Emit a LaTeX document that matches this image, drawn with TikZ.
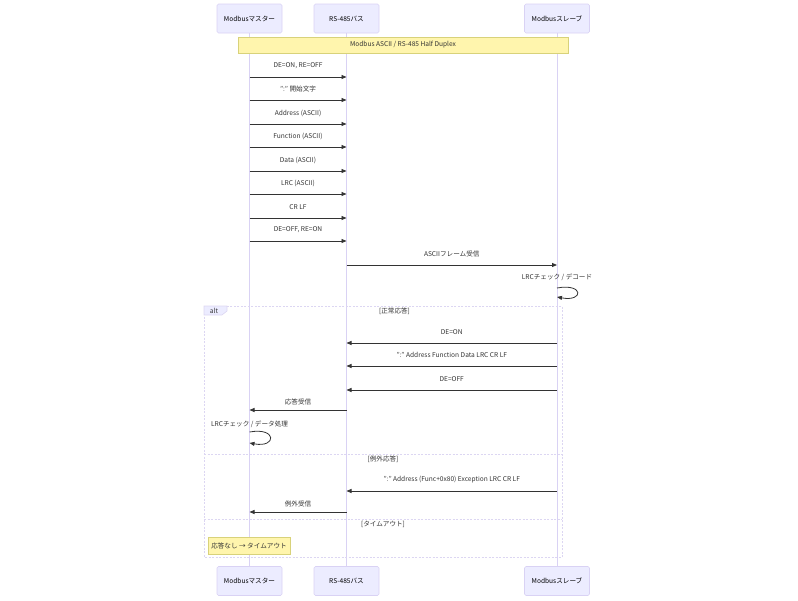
\documentclass[tikz,border=0pt]{standalone}
\usepackage{fontspec}
\setmainfont{Noto Sans CJK JP}
\usetikzlibrary{arrows.meta}
\definecolor{actfill}{HTML}{ECECFF}
\definecolor{actdraw}{HTML}{D9D2F4}
\definecolor{lifec}{HTML}{D9D2F4}
\definecolor{notefill}{HTML}{FFF5AD}
\definecolor{notedraw}{HTML}{D8D27A}
\definecolor{txt}{HTML}{333333}
\definecolor{altc}{HTML}{DCD6F2}
\tikzset{
  actor/.style={draw=actdraw, fill=actfill, minimum width=65pt, minimum height=29pt, rounded corners=1.5pt, line width=0.6pt, inner sep=0pt},
  life/.style={draw=lifec, line width=0.8pt},
  msg/.style={draw=txt, line width=0.8pt, -{Triangle[length=5pt,width=4pt]}},
  lbl/.style={midway, yshift=11pt, inner sep=0pt, text=txt},
  notebox/.style={draw=notedraw, fill=notefill, line width=0.6pt, inner sep=0pt, text=txt},
  altline/.style={draw=altc, line width=0.7pt, dash pattern=on 2pt off 1.5pt},
  sect/.style={inner sep=0pt, text=txt}
}
\begin{document}
\begin{tikzpicture}[x=1pt,y=-1pt, font=\fontsize{6.6}{7.5}\selectfont]
\useasboundingbox (0,0) rectangle (798,600);
% actors
\node[actor] (mt) at (249.5,18.5) {Modbusマスター};
\node[actor] (bt) at (346.5,18.5) {RS-485バス};
\node[actor] (st) at (557,18.5) {Modbusスレーブ};
\node[actor] (mb) at (249.5,581) {Modbusマスター};
\node[actor] (bb) at (346.5,581) {RS-485バス};
\node[actor] (sb) at (557,581) {Modbusスレーブ};
\draw[life] (mt.south) -- (mb.north);
\draw[life] (bt.south) -- (bb.north);
\draw[life] (st.south) -- (sb.north);
% note
\node[notebox, minimum width=330pt, minimum height=16pt] (n1) at (403,45) {Modbus ASCII / RS-485 Half Duplex};
% coordinates
\foreach \n/\y in {1/77,2/100,3/124,4/147,5/171,6/194,7/218,8/241,9/265,10/343,11/366,12/390,13/410,14/491,15/512}{
  \coordinate (m\n) at (249.5,\y);
  \coordinate (b\n) at (346.5,\y);
  \coordinate (s\n) at (557,\y);
}
\draw[msg] (m1) -- (b1) node[lbl] {DE=ON, RE=OFF};
\draw[msg] (m2) -- (b2) node[lbl] {":" 開始文字};
\draw[msg] (m3) -- (b3) node[lbl] {Address (ASCII)};
\draw[msg] (m4) -- (b4) node[lbl] {Function (ASCII)};
\draw[msg] (m5) -- (b5) node[lbl] {Data (ASCII)};
\draw[msg] (m6) -- (b6) node[lbl] {LRC (ASCII)};
\draw[msg] (m7) -- (b7) node[lbl] {CR LF};
\draw[msg] (m8) -- (b8) node[lbl] {DE=OFF, RE=ON};
\draw[msg] (b9) -- (s9) node[lbl] {ASCIIフレーム受信};
% slave self loop
\coordinate (sl1) at (557,288);
\coordinate (sl2) at (557,297);
\node[sect] (sll) at (557,277) {LRCチェック / デコード};
\draw[msg] (sl1) .. controls (584,283) and (584,302) .. (sl2);
% alt box
\draw[altline] (204,306) rectangle (562,557);
\draw[altline] (204,454) -- (562,454);
\draw[altline] (204,519) -- (562,519);
\filldraw[fill=actfill, draw=altc, line width=0.6pt] (204,306) -- (227,306) -- (227,311) -- (222,315) -- (204,315) -- cycle;
\node[sect] (altl) at (214,310.5) {alt};
\node[sect] (g1) at (394.5,311) {[正常応答]};
\draw[msg] (s10) -- (b10) node[lbl] {DE=ON};
\draw[msg] (s11) -- (b11) node[lbl] {":" Address Function Data LRC CR LF};
\draw[msg] (s12) -- (b12) node[lbl] {DE=OFF};
\draw[msg] (b13) -- (m13) node[lbl, yshift=-3pt] {応答受信};
% master self loop
\coordinate (ml1) at (249.5,432);
\coordinate (ml2) at (249.5,443);
\node[sect] (mll) at (249.5,424) {LRCチェック / データ処理};
\draw[msg] (ml1) .. controls (277,427) and (277,448) .. (ml2);
\node[sect] (g2) at (383,459) {[例外応答]};
\draw[msg] (s14) -- (b14) node[lbl] {":" Address (Func+0x80) Exception LRC CR LF};
\draw[msg] (b15) -- (m15) node[lbl, yshift=-3pt] {例外受信};
\node[sect] (g3) at (383,524) {[タイムアウト]};
\node[notebox, minimum width=82pt, minimum height=17pt] (n2) at (249,545.5) {応答なし → タイムアウト};
\end{tikzpicture}
\end{document}
